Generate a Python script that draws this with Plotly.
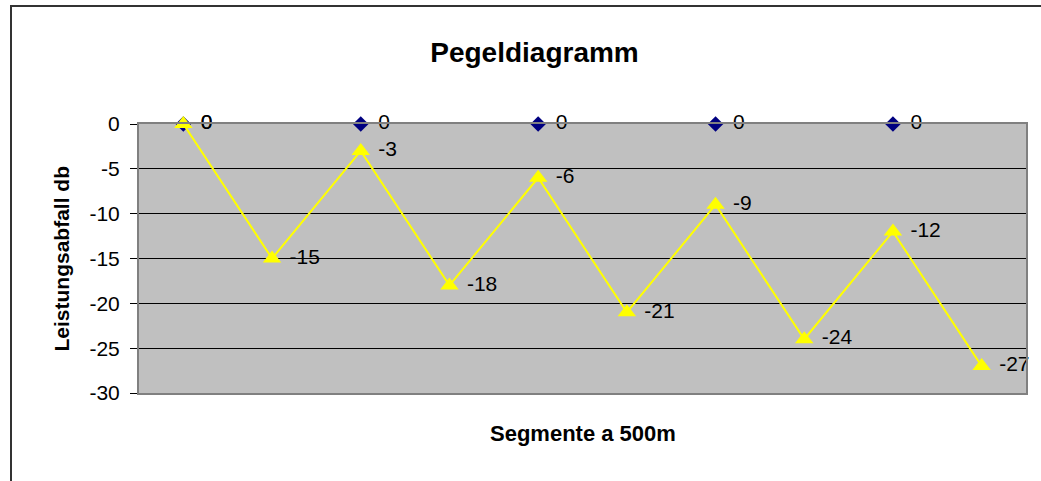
import plotly.graph_objects as go

categories = ["1", "2", "3", "4", "5", "6", "7", "8", "9", "10"]
pegel_values = [0, -15, -3, -18, -6, -21, -9, -24, -12, -27]
marker_values = [0, None, 0, None, 0, None, 0, None, 0, None]
y_tick_values = [0, -5, -10, -15, -20, -25, -30]
y_tick_labels = ["0", "-5", "-10", "-15", "-20", "-25", "-30"]

FONT = "Liberation Sans, Arial, sans-serif"
W, H = 1041, 481
L, R, T, B = 139, 15, 124, 88
pw, ph = W - L - R, H - T - B

def px_to_paper_x(px):
    return (px - L) / pw

def px_to_paper_y(py):
    return (H - B - py) / ph

PAD = "\u00a0\u00a0\u00a0"

fig = go.Figure()

fig.add_trace(go.Scatter(
    x=categories, y=marker_values, mode="markers",
    marker=dict(symbol="diamond", size=12, color="#000080"),
    cliponaxis=False, showlegend=False, hoverinfo="skip",
))

fig.add_trace(go.Scatter(
    x=categories, y=pegel_values, mode="lines+markers",
    line=dict(color="#FFFF00", width=2),
    marker=dict(symbol="triangle-up", size=16, color="#FFFF00"),
    cliponaxis=False, showlegend=False, hoverinfo="skip",
))

# data labels (Excel-style, to the right of each point)
fig.add_trace(go.Scatter(
    x=categories, y=marker_values, mode="text",
    text=[(PAD + str(v)) if v is not None else "" for v in marker_values],
    textposition="middle right",
    textfont=dict(family=FONT, size=21, color="black"),
    cliponaxis=False, showlegend=False, hoverinfo="skip",
))
fig.add_trace(go.Scatter(
    x=categories, y=pegel_values, mode="text",
    text=[PAD + str(v) for v in pegel_values],
    textposition="middle right",
    textfont=dict(family=FONT, size=21, color="black"),
    cliponaxis=False, showlegend=False, hoverinfo="skip",
))

fig.update_layout(
    width=W, height=H,
    margin=dict(l=L, r=R, t=T, b=B, pad=0),
    paper_bgcolor="white", plot_bgcolor="#C0C0C0",
    font=dict(family=FONT, size=21, color="black"),
    title=dict(text="<b>Pegeldiagramm</b>", x=534.5 / W, xanchor="center",
               y=1 - 52 / H, yanchor="middle",
               font=dict(family=FONT, size=28, color="black")),
    xaxis=dict(type="category", range=[-0.5, 9.5], showticklabels=False,
               ticks="", showgrid=False, zeroline=False,
               showline=True, linecolor="#808080", linewidth=2, mirror=True),
    yaxis=dict(range=[-30, 0], tickmode="array", tickvals=y_tick_values,
               ticktext=y_tick_labels, showgrid=True,
               gridcolor="black", gridwidth=1, zeroline=False,
               ticks="outside", ticklen=7, tickcolor="black", tickwidth=1,
               ticklabelstandoff=6,
               tickfont=dict(family=FONT, size=21, color="black"),
               showline=True, linecolor="#808080", linewidth=2, mirror=True),
    shapes=[dict(type="rect", xref="paper", yref="paper",
                 x0=px_to_paper_x(11), x1=px_to_paper_x(1070),
                 y0=px_to_paper_y(500), y1=px_to_paper_y(6),
                 line=dict(color="#333333", width=2), fillcolor="rgba(0,0,0,0)",
                 layer="below")],
    annotations=[
        dict(text="<b>Segmente a 500m</b>", xref="paper", yref="paper",
             x=0.5, y=px_to_paper_y(433), xanchor="center", yanchor="middle",
             showarrow=False, font=dict(family=FONT, size=22, color="black")),
        dict(text="<b>Leistungsabfall db</b>", xref="paper", yref="paper",
             x=px_to_paper_x(61), y=0.5, xanchor="center", yanchor="middle",
             textangle=-90, showarrow=False,
             font=dict(family=FONT, size=21, color="black")),
    ],
)

fig.write_html("out.html",
               config={"displayModeBar": False},
               post_script="document.body.style.margin='0';document.body.style.overflow='hidden';")
